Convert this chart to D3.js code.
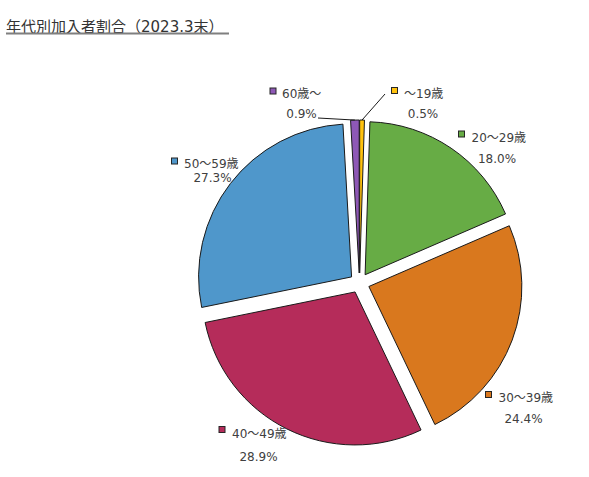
<!DOCTYPE html>
<html><head><meta charset="utf-8">
<script src="https://cdn.jsdelivr.net/npm/d3@7"></script>
<style>
body{margin:0;background:#fff;}
text{font-family:"DejaVu Sans","Noto Sans CJK JP",sans-serif;}
</style></head>
<body><svg id="c" width="589" height="477"></svg>
<script>
const categories = ["～19歳","20～29歳","30～39歳","40～49歳","50～59歳","60歳～"];
const values = [0.5, 18.0, 24.4, 28.9, 27.3, 0.9];
const valueLabels = ["0.5%","18.0%","24.4%","28.9%","27.3%","0.9%"];
const colors = ["#FFC20E","#67AC45","#D9781E","#B52C5A","#4F97CB","#8E58B6"];

// layout (label anchor positions)
const labelLayout = [
  {sx:391.5, sy:87.5, tx:404, ty:97.5, px:423, py:118, line:[385,94]},
  {sx:458.5, sy:131, tx:471.5, ty:141.5, px:497, py:163},
  {sx:485.5, sy:391.5, tx:498.5, ty:401.5, px:523.5, py:423},
  {sx:219, sy:426.5, tx:232, ty:438, px:258.5, py:460.5},
  {sx:171.5, sy:158, tx:184, ty:168, px:212.5, py:181.5},
  {sx:270, sy:88, tx:282, ty:98, px:301.5, py:118, line:[318,118]}
];

const svg = d3.select("#c");
const cx = 359.5, cy = 283, R = 153, explode = 10;

// title
svg.append("text").attr("x",6).attr("y",31.5)
  .attr("font-size",15).attr("fill","#333")
  .text("年代別加入者割合（2023.3末）");
svg.append("line").attr("x1",6).attr("x2",229).attr("y1",33.5).attr("y2",33.5)
  .attr("stroke","#7f7f7f").attr("stroke-width",2);

const pie = d3.pie().sort(null).value(d=>d).startAngle(0).endAngle(2*Math.PI);
const arcs = pie(values);
const arc = d3.arc().innerRadius(0).outerRadius(R);

const g = svg.append("g").attr("transform",`translate(${cx},${cy})`);
arcs.forEach((a,i)=>{
  const mid = (a.startAngle+a.endAngle)/2;
  const dx = explode*Math.sin(mid), dy = -explode*Math.cos(mid);
  g.append("path").attr("d",arc(a))
    .attr("transform",`translate(${dx},${dy})`)
    .attr("fill",colors[i]).attr("stroke","#1a1a1a").attr("stroke-width",1)
    .attr("stroke-linejoin","round");
});

// leader lines
arcs.forEach((a,i)=>{
  const L = labelLayout[i];
  if(!L.line) return;
  const mid = (a.startAngle+a.endAngle)/2;
  const ex = cx + (R+explode)*Math.sin(mid), ey = cy - (R+explode)*Math.cos(mid);
  svg.append("line").attr("x1",L.line[0]).attr("y1",L.line[1])
    .attr("x2",ex).attr("y2",ey).attr("stroke","#1a1a1a").attr("stroke-width",1);
});

// labels
categories.forEach((c,i)=>{
  const L = labelLayout[i];
  svg.append("rect").attr("x",L.sx).attr("y",L.sy).attr("width",6).attr("height",6)
    .attr("fill",colors[i]).attr("stroke","#262626").attr("stroke-width",1);
  svg.append("text").attr("x",L.tx).attr("y",L.ty).attr("font-size",12)
    .attr("fill","#404040").text(c);
  svg.append("text").attr("x",L.px).attr("y",L.py).attr("font-size",12)
    .attr("text-anchor","middle").attr("fill","#404040").text(valueLabels[i]);
});
</script></body></html>
